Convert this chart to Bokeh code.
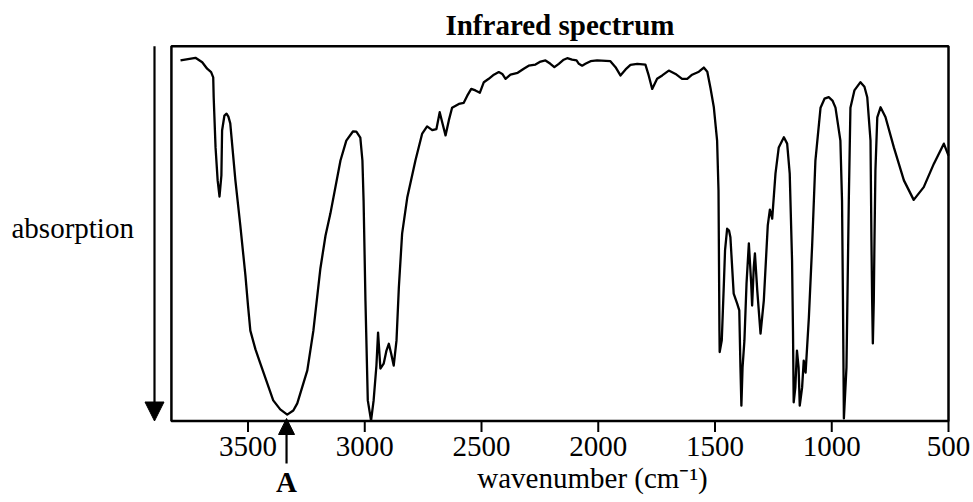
from bokeh.plotting import figure
from bokeh.models import Range1d, Label, Arrow, NormalHead
from bokeh.embed import file_html
from bokeh.resources import INLINE

# ---- data ----
wavenumber = [3789, 3725, 3696, 3675, 3658, 3649, 3647, 3639, 3630, 3622, 3614, 3611, 3601, 3592, 3584,
              3576, 3554, 3533, 3511, 3500, 3490, 3468, 3447, 3392, 3362, 3332, 3306, 3289, 3246, 3220,
              3190, 3168, 3147, 3104, 3079, 3050, 3036, 3019, 3010, 3005, 2997, 2987, 2973, 2962, 2950,
              2943, 2933, 2919, 2907, 2897, 2887, 2876, 2864, 2854, 2840, 2818, 2783, 2754, 2733, 2711,
              2693, 2679, 2667, 2654, 2640, 2626, 2597, 2576, 2561, 2544, 2526, 2507, 2490, 2469, 2447,
              2426, 2411, 2397, 2376, 2345, 2319, 2298, 2269, 2247, 2226, 2205, 2188, 2169, 2148, 2133,
              2112, 2093, 2083, 2069, 2055, 2033, 2005, 1948, 1926, 1905, 1883, 1862, 1833, 1798, 1784,
              1769, 1748, 1726, 1698, 1669, 1641, 1619, 1598, 1569, 1548, 1533, 1519, 1505, 1491, 1485,
              1483, 1481, 1480, 1471, 1462, 1457, 1448, 1440, 1434, 1420, 1405, 1396, 1391, 1387, 1382,
              1374, 1365, 1355, 1345, 1341, 1334, 1329, 1319, 1305, 1291, 1274, 1265, 1255, 1241, 1227,
              1205, 1191, 1180, 1170, 1166, 1163, 1156, 1149, 1142, 1137, 1127, 1120, 1112, 1098, 1084,
              1070, 1048, 1031, 1013, 997, 984, 963, 956, 952, 948, 937, 931, 927, 920, 903,
              877, 860, 848, 834, 830, 827, 824, 820, 817, 813, 805, 791, 770, 734, 691,
              649, 606, 563, 520, 500]

transmittance = [96.2, 96.9, 95.7, 94.0, 93.1, 91.7, 86.4, 73.0, 64.2, 59.9, 65.5, 77.5, 81.5, 82.0, 81.2,
                 79.4, 64.2, 52.2, 38.8, 30.8, 24.1, 19.1, 15.3, 5.5, 3.1, 1.7, 2.8, 4.7, 13.5, 24.1,
                 40.7, 49.5, 55.4, 69.5, 74.8, 77.3, 77.2, 75.6, 69.5, 58.8, 32.1, 5.5, 0.1, 5.5, 14.8,
                 23.6, 14.0, 15.3, 18.8, 20.6, 18.0, 14.8, 21.5, 35.6, 50.0, 59.6, 69.5, 76.7, 78.6, 77.6,
                 77.9, 82.4, 79.4, 76.2, 80.2, 83.6, 84.6, 84.9, 86.8, 88.6, 88.2, 87.6, 90.4, 91.3, 92.4,
                 93.1, 92.6, 91.3, 92.4, 92.9, 94.0, 94.8, 95.1, 95.9, 96.2, 95.3, 94.4, 95.3, 96.4, 96.8,
                 96.4, 96.2, 95.3, 94.8, 95.3, 96.0, 96.2, 96.0, 94.4, 92.2, 93.8, 95.0, 95.3, 95.1, 92.2,
                 88.6, 91.3, 92.2, 93.5, 92.6, 91.3, 91.3, 92.4, 93.2, 94.3, 93.2, 88.7, 83.7, 74.8, 61.5,
                 42.8, 24.1, 18.4, 21.5, 36.7, 45.5, 51.3, 50.8, 49.0, 34.0, 31.3, 29.5, 14.3, 4.1, 14.3,
                 21.5, 36.7, 47.4, 36.7, 30.8, 41.0, 44.7, 34.8, 23.3, 32.1, 52.2, 56.4, 54.0, 66.0, 73.0,
                 75.7, 74.0, 66.0, 42.8, 24.1, 5.0, 8.9, 18.8, 14.3, 4.1, 8.9, 16.1, 12.9, 27.6, 46.8,
                 69.5, 83.6, 86.0, 86.4, 85.5, 83.6, 74.8, 58.8, 32.1, 0.7, 14.3, 41.0, 58.8, 83.6, 88.2,
                 90.4, 89.2, 86.4, 74.8, 48.2, 32.1, 20.7, 32.1, 48.2, 66.8, 81.0, 83.7, 81.1, 73.0, 64.2,
                 59.0, 62.4, 68.6, 74.0, 70.8]

tick_values = [3500, 3000, 2500, 2000, 1500, 1000, 500]
tick_labels = [str(t) for t in tick_values]

x_min, x_max = 3828, 500      # wavenumber span of the plot box
y_min, y_max = 0, 100         # vertical span of the plot box

title_text = "Infrared spectrum"
x_label_text = "wavenumber (cm\u207b\u00b9)"
y_label_text = "absorption"
marker_text = "A"
marker_wavenumber = 3335

# ---- layout / style ----
W, H = 973, 497
FONT = "Liberation Serif"
FS = "29px"
UNITS_PER_PX = 4.2827          # wavenumber units per pixel
T_PER_PX = 100 / 374.8         # transmittance units per pixel
BOX_RIGHT_PX, BOX_BOTTOM_PX = 948, 420.5
TEXT_SHIFT = 11                # renderer places alphabetic baseline lower; compensate


def xd(px):
    """page pixel -> wavenumber (for annotation placement only)"""
    return x_max + (BOX_RIGHT_PX - px) * UNITS_PER_PX


def yd(px):
    """page pixel -> vertical data value (for annotation placement only)"""
    return y_min + (BOX_BOTTOM_PX - px) * T_PER_PX


def yt(px):
    """baseline pixel of a text -> data value"""
    return yd(px - TEXT_SHIFT)


p = figure(width=W, height=H, output_backend="svg", toolbar_location=None,
           x_range=Range1d(xd(0), xd(W)), y_range=Range1d(yd(H), yd(0)),
           x_axis_location=None, y_axis_location=None,
           min_border=0, min_border_left=0, min_border_right=0,
           min_border_top=0, min_border_bottom=0, title=None)
p.background_fill_color = "white"
p.border_fill_color = "white"
p.outline_line_color = None
p.grid.visible = False

# plot box
p.quad(left=[x_min], right=[x_max], bottom=[y_min], top=[y_max],
       fill_color=None, line_color="black", line_width=2.5)

# spectrum
p.line(wavenumber, transmittance, line_color="black", line_width=2.3, line_join="round")

# x ticks and tick labels
tick_len = 11 * T_PER_PX
p.segment(x0=tick_values, y0=[y_min] * len(tick_values),
          x1=tick_values, y1=[y_min - tick_len] * len(tick_values),
          line_color="black", line_width=2)
p.text(x=tick_values, y=[yt(457)] * len(tick_values), text=tick_labels,
       text_align="center", text_baseline="alphabetic",
       text_font={"value": FONT}, text_font_size={"value": FS}, text_color="black")

# Title
p.add_layout(Label(x=(x_min + x_max) / 2, y=yt(35), text=title_text, text_align="center",
                   text_baseline="alphabetic", text_font=FONT, text_font_style="bold",
                   text_font_size=FS, text_color="black"))
# x label
p.add_layout(Label(x=xd(592), y=yt(488), text=x_label_text, text_align="center",
                   text_baseline="alphabetic", text_font=FONT,
                   text_font_size=FS, text_color="black"))
# y label
p.add_layout(Label(x=xd(11), y=yt(238), text=y_label_text, text_align="left",
                   text_baseline="alphabetic", text_font=FONT,
                   text_font_size=FS, text_color="black"))
# absorption arrow (pointing down)
p.add_layout(Arrow(end=NormalHead(size=19, fill_color="black", line_color="black", line_width=1),
                   x_start=xd(154), y_start=y_max, x_end=xd(154), y_end=y_min,
                   line_color="black", line_width=2.2))
# marker A arrow
p.add_layout(Arrow(end=NormalHead(size=16, fill_color="black", line_color="black", line_width=1),
                   x_start=marker_wavenumber, y_start=yd(463), x_end=marker_wavenumber, y_end=yd(418),
                   line_color="black", line_width=2.2))
p.add_layout(Label(x=marker_wavenumber, y=yt(492), text=marker_text, text_align="center",
                   text_baseline="alphabetic", text_font=FONT, text_font_style="bold",
                   text_font_size=FS, text_color="black"))

open("out.html", "w").write(file_html(p, INLINE))
